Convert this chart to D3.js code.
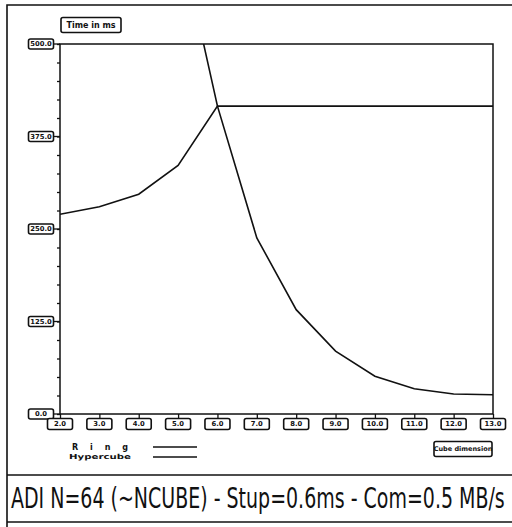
<!DOCTYPE html>
<html>
<head>
<meta charset="utf-8">
<script src="https://cdn.jsdelivr.net/npm/d3@7"></script>
<style>
  html, body { margin: 0; padding: 0; background: #fff; }
  svg { display: block; }
  .tl { font-family: "DejaVu Sans", sans-serif; font-weight: bold; font-size: 6.8px; fill: #111; }
</style>
</head>
<body>
<svg id="chart" width="512" height="527"></svg>
<script>
// Cube dimension on the x axis, time in ms on the y axis
const dims = [2, 3, 4, 5, 6, 7, 8, 9, 10, 11, 12, 13];
const ringTime = [270, 280, 297, 336, 416, 416, 416, 416, 416, 416, 416, 416];
const hyperDims = [5, 6, 7, 8, 9, 10, 11, 12, 13];
const hyperTime = [655, 416, 238, 141, 85, 51, 34, 27, 26];
const xTickLabels = ["2.0", "3.0", "4.0", "5.0", "6.0", "7.0", "8.0", "9.0", "10.0", "11.0", "12.0", "13.0"];
const yTickValues = [0, 125, 250, 375, 500];
const yTickLabels = ["0.0", "125.0", "250.0", "375.0", "500.0"];
const legendNames = ["Ring", "Hypercube"];
const caption = "ADI N=64 (~NCUBE) - Stup=0.6ms - Com=0.5 MB/s";

const svg = d3.select("#chart");
const plot = { left: 60, top: 44, right: 493, bottom: 414 };

const x = d3.scaleLinear().domain([2, 13]).range([plot.left, plot.right]);
const y = d3.scaleLinear().domain([0, 500]).range([plot.bottom, plot.top]);

// Outer frame and caption panel
svg.append("path")
  .attr("d", "M7,527 L7,5 L512,5")
  .attr("fill", "none").attr("stroke", "#111").attr("stroke-width", 1.6);
svg.append("line").attr("x1", 7).attr("x2", 512).attr("y1", 475).attr("y2", 475)
  .attr("stroke", "#111").attr("stroke-width", 1.6);
svg.append("line").attr("x1", 7).attr("x2", 512).attr("y1", 522).attr("y2", 522)
  .attr("stroke", "#111").attr("stroke-width", 1.4);

// Caption: tall condensed lettering, squeezed horizontally to span the panel
const capText = svg.append("text")
  .attr("x", 0).attr("y", 0)
  .style("font-family", "'DejaVu Sans', sans-serif")
  .style("font-size", "29px").style("fill", "#111")
  .text(caption);
const capWidth = capText.node().getComputedTextLength();
capText.attr("transform", `translate(11,508) scale(${494 / capWidth},1)`);

// Boxed label helper
function boxLabel(cx, cy, w, h, txt, cls) {
  const g = svg.append("g");
  g.append("rect")
    .attr("x", cx - w / 2).attr("y", cy - h / 2).attr("width", w).attr("height", h)
    .attr("rx", 2).attr("fill", "#fff").attr("stroke", "#111").attr("stroke-width", 1.6);
  g.append("text").attr("class", cls || "tl")
    .attr("x", cx).attr("y", cy).attr("text-anchor", "middle").attr("dominant-baseline", "central")
    .text(txt);
  return g;
}

// Plot frame
svg.append("rect")
  .attr("x", plot.left).attr("y", plot.top)
  .attr("width", plot.right - plot.left).attr("height", plot.bottom - plot.top)
  .attr("fill", "none").attr("stroke", "#111").attr("stroke-width", 1.5);

// Y axis with minor ticks every 25 ms
const yAxis = d3.axisLeft(y).tickValues(d3.range(0, 501, 25)).tickSize(3).tickFormat("");
svg.append("g").attr("transform", `translate(${plot.left},0)`).call(yAxis)
  .call(g => g.select(".domain").remove())
  .call(g => g.selectAll("line").attr("stroke", "#111").attr("stroke-width", 1.3));
yTickValues.forEach((v, i) => {
  svg.append("line").attr("x1", 53).attr("x2", plot.left).attr("y1", y(v)).attr("y2", y(v))
    .attr("stroke", "#111").attr("stroke-width", 1.3);
  boxLabel(41, y(v), 25, 10, yTickLabels[i]);
});

// X axis ticks and boxed labels
const xAxis = d3.axisBottom(x).tickValues(dims).tickSize(5).tickFormat("");
svg.append("g").attr("transform", `translate(0,${plot.bottom})`).call(xAxis)
  .call(g => g.select(".domain").remove())
  .call(g => g.selectAll("line").attr("stroke", "#111").attr("stroke-width", 1.3));
dims.forEach((d, i) => {
  boxLabel(x(d), 424, 25, 11, xTickLabels[i]);
});

// Axis titles
boxLabel(91, 25, 60, 15, "Time in ms", "tl").select("text").style("font-size", "8px");
boxLabel(463, 449, 58, 15, "Cube dimension", "tl").select("text").style("font-size", "6.5px");

// Series lines, clipped to the plot area
svg.append("clipPath").attr("id", "plotClip").append("rect")
  .attr("x", plot.left).attr("y", plot.top)
  .attr("width", plot.right - plot.left).attr("height", plot.bottom - plot.top);

const line = d3.line().x(d => x(d[0])).y(d => y(d[1]));
const series = [
  dims.map((d, i) => [d, ringTime[i]]),
  hyperDims.map((d, i) => [d, hyperTime[i]])
];
svg.append("g").attr("clip-path", "url(#plotClip)")
  .selectAll("path").data(series).join("path")
  .attr("d", line)
  .attr("fill", "none").attr("stroke", "#111").attr("stroke-width", 1.6);

// Legend
legendNames.forEach((name, i) => {
  const ly = 447 + i * 10;
  svg.append("text")
    .attr("x", 100).attr("y", ly).attr("text-anchor", "middle").attr("dominant-baseline", "central")
    .attr("textLength", i === 0 ? 56 : 62).attr("lengthAdjust", i === 0 ? "spacing" : "spacingAndGlyphs")
    .style("font-family", "'DejaVu Sans', sans-serif").style("font-weight", "bold")
    .style("font-size", i === 0 ? "8px" : "7px").style("fill", "#111")
    .text(name);
  svg.append("line").attr("x1", 153).attr("x2", 197).attr("y1", ly).attr("y2", ly)
    .attr("stroke", "#111").attr("stroke-width", 1.6);
});
</script>
</body>
</html>
